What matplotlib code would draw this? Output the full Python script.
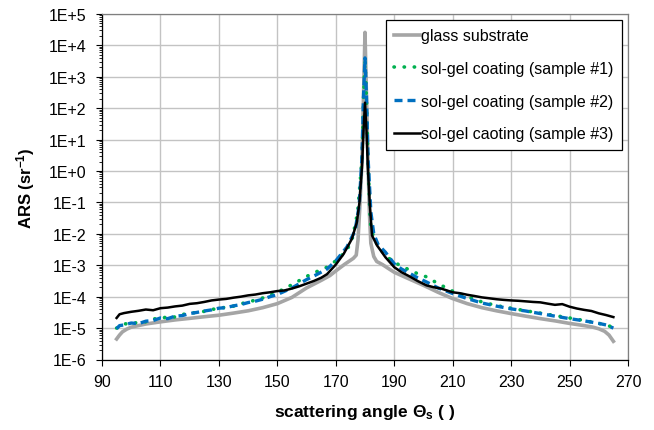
import matplotlib
matplotlib.use('Agg')
import matplotlib.pyplot as plt
from matplotlib.ticker import LogLocator, NullFormatter

plt.rcParams['font.family'] = ['Liberation Sans', 'DejaVu Sans']
plt.rcParams['mathtext.default'] = 'regular'

# ---------------- data ----------------
glass_angle = [95, 96, 97, 98.5, 100, 105, 110, 115, 120, 125, 130, 135, 140, 145, 150,
               155, 160, 165, 168, 170, 173, 176, 177, 177.6, 178.2, 179, 179.5, 180, 180.5, 181,
               181.5, 182, 183, 184, 186, 188, 190, 195, 200, 205, 210, 215, 220, 225, 230,
               235, 240, 245, 250, 255, 258, 260, 262, 263.5, 265]
glass_ars = [4.5e-6, 6.0e-6, 7.6e-6, 9.3e-6, 1.07e-5, 1.35e-5, 1.58e-5, 1.82e-5, 2.04e-5, 2.3e-5,
             2.57e-5, 3.0e-5, 3.55e-5, 4.47e-5, 6.0e-5, 9.5e-5, 1.9e-4, 3.3e-4, 4.7e-4, 6.6e-4,
             1.07e-3, 1.66e-3, 2.1e-3, 6.3e-3, 6.3e-2, 2.5, 250, 2.6e4, 250, 2.5,
             5.0e-2, 5.0e-3, 1.9e-3, 1.32e-3, 1.05e-3, 7.9e-4, 6.0e-4, 3.7e-4, 2.3e-4,
             1.38e-4, 8.7e-5, 6.0e-5, 4.47e-5, 3.55e-5, 2.9e-5, 2.4e-5, 2.0e-5, 1.7e-5, 1.41e-5,
             1.2e-5, 1.07e-5, 9.5e-6, 7.9e-6, 6.0e-6, 3.8e-6]

s1_angle = [95, 96, 97.5, 100, 102.5, 105, 107.5, 110, 112.5, 115, 117.5, 120, 122.5, 125,
            127.5, 130, 132.5, 135, 137.5, 140, 142.5, 145, 147.5, 150, 155, 160, 163, 167, 170,
            173.8, 175.8, 177.5, 179, 179.5, 180, 180.5, 181, 181.8, 183, 185, 187, 190,
            192.5, 195.5, 198, 201, 205, 210, 215, 220, 225, 230, 235, 240, 245, 250, 255, 260,
            262.5, 265]
s1_ars = [1.0e-5, 1.12e-5, 1.38e-5, 1.32e-5, 1.58e-5, 1.58e-5, 2.0e-5, 1.9e-5, 2.4e-5, 2.24e-5,
          2.75e-5, 2.8e-5, 3.3e-5, 3.4e-5, 4.0e-5, 4.0e-5, 4.8e-5, 5.0e-5, 6.0e-5, 6.6e-5,
          7.9e-5, 9.1e-5, 1.12e-4, 1.38e-4, 2.4e-4, 4.4e-4, 6.0e-4, 8.7e-4, 1.38e-3,
          2.95e-3, 7.9e-3, 5.0e-2, 2.5, 200, 3500, 200, 2.5, 2.3e-2, 6.9e-3, 3.55e-3, 2.0e-3,
          1.26e-3, 9.3e-4, 6.9e-4, 5.4e-4, 4.3e-4, 2.6e-4, 1.5e-4, 1.0e-4, 6.8e-5, 5.2e-5,
          4.3e-5, 3.55e-5, 3.0e-5, 2.5e-5, 2.1e-5, 1.74e-5, 1.41e-5, 1.26e-5, 1.05e-5]

s2_angle = [95, 96, 97.5, 100, 102.5, 105, 107.5, 110, 112.5, 115, 117.5, 120, 122.5, 125,
            127.5, 130, 132.5, 135, 137.5, 140, 142.5, 145, 147.5, 150, 155, 160, 163, 167, 170,
            173.8, 176.6, 178, 179, 179.5, 180, 180.5, 181, 182, 183, 184.5, 187, 190,
            192.5, 195.5, 198, 201, 205, 210, 215, 220, 225, 230, 235, 240, 245, 250, 255, 260,
            262.5, 265]
s2_ars = [9.5e-6, 1.2e-5, 1.26e-5, 1.45e-5, 1.38e-5, 1.66e-5, 1.74e-5, 2.1e-5, 2.0e-5, 2.4e-5,
          2.5e-5, 2.9e-5, 3.16e-5, 3.5e-5, 3.8e-5, 4.3e-5, 4.5e-5, 5.1e-5, 5.6e-5, 6.5e-5,
          7.2e-5, 8.3e-5, 1.0e-4, 1.17e-4, 1.9e-4, 3.5e-4, 4.8e-4, 7.6e-4, 1.38e-3,
          3.8e-3, 1.26e-2, 7.9e-2, 3.2, 250, 4000, 250, 3.2, 5.0e-2, 1.0e-2, 4.5e-3, 2.6e-3,
          1.12e-3, 7.6e-4, 5.4e-4, 4.0e-4, 2.95e-4, 1.9e-4, 1.26e-4, 8.7e-5, 6.3e-5, 5.0e-5,
          4.1e-5, 3.5e-5, 2.9e-5, 2.4e-5, 2.0e-5, 1.7e-5, 1.41e-5, 1.26e-5, 1.0e-5]

s3_angle = [95, 96, 97.5, 100, 102.5, 105, 107.5, 110, 112.5, 115, 117.5, 120, 122.5, 125,
            127.5, 130, 132.5, 135, 137.5, 140, 142.5, 145, 147.5, 150, 152.5, 155, 157.5, 160,
            162.5, 165, 167, 170, 172.7, 175.5, 177.2, 178.1, 179, 179.5, 180, 180.5, 181,
            181.6, 182.4, 184.1, 187, 190, 192.5, 195.5, 198, 201, 203.5, 206, 208, 210,
            212.5, 215, 217.5, 220, 222.5, 225, 227.5, 230, 232.5, 235, 237.5, 240, 242.5, 245,
            247.5, 250, 252.5, 255, 257.5, 260, 262.5, 265]
s3_ars = [2.1e-5, 2.75e-5, 3.0e-5, 3.3e-5, 3.55e-5, 3.9e-5, 3.7e-5, 4.3e-5, 4.5e-5, 4.9e-5,
          5.2e-5, 5.9e-5, 6.2e-5, 6.8e-5, 7.6e-5, 8.1e-5, 8.5e-5, 9.3e-5, 1.0e-4, 1.1e-4,
          1.17e-4, 1.29e-4, 1.38e-4, 1.51e-4, 1.58e-4, 1.82e-4, 2.14e-4, 2.6e-4, 3.16e-4, 4.0e-4,
          5.2e-4, 1.05e-3, 2.3e-3, 6.9e-3, 2.3e-2, 0.1, 1.5, 20, 150, 20, 1.2,
          0.1, 8.9e-3, 4.3e-3, 1.8e-3, 8.7e-4, 6.0e-4, 4.3e-4, 3.16e-4, 2.3e-4, 2.0e-4, 1.82e-4,
          1.58e-4, 1.38e-4, 1.29e-4, 1.15e-4, 1.05e-4, 9.5e-5, 8.9e-5, 8.3e-5, 7.9e-5, 7.6e-5,
          7.4e-5, 7.1e-5, 6.8e-5, 6.6e-5, 6.0e-5, 5.5e-5, 5.8e-5, 4.8e-5, 4.2e-5, 3.8e-5,
          3.5e-5, 2.95e-5, 2.6e-5, 2.24e-5]

series_labels = ['glass substrate', 'sol-gel coating (sample #1)',
                 'sol-gel coating (sample #2)', 'sol-gel caoting (sample #3)']
x_ticks = [90, 110, 130, 150, 170, 190, 210, 230, 250, 270]
y_tick_values = [1e-6, 1e-5, 1e-4, 1e-3, 1e-2, 1e-1, 1e0, 1e1, 1e2, 1e3, 1e4, 1e5]
y_tick_labels = ['1E-6', '1E-5', '1E-4', '1E-3', '1E-2', '1E-1', '1E+0', '1E+1',
                 '1E+2', '1E+3', '1E+4', '1E+5']

# ---------------- figure ----------------
W, H = 654, 431
fig = plt.figure(figsize=(W / 100, H / 100), dpi=100)
ax = fig.add_axes([102 / W, 1 - 360.5 / H, 526 / W, 345.5 / H])

ax.plot(glass_angle, glass_ars, color='#a5a5a5', lw=2.6, solid_joinstyle='round',
        label=series_labels[0], zorder=3)
ax.plot(s1_angle, s1_ars, color='#00b050', lw=2.6, linestyle=(0, (0.1, 2.7)),
        dash_capstyle='round', label=series_labels[1], zorder=4)
ax.plot(s2_angle, s2_ars, color='#0070c0', lw=2.4, linestyle=(0, (2.4, 1.5)),
        label=series_labels[2], zorder=5)
ax.plot(s3_angle, s3_ars, color='black', lw=1.8, solid_joinstyle='round',
        label=series_labels[3], zorder=6)

ax.set_yscale('log')
ax.set_xlim(90, 270)
ax.set_ylim(1e-6, 1e5)
ax.set_xticks(x_ticks)
ax.set_yticks(y_tick_values)
ax.set_yticklabels(y_tick_labels)
ax.yaxis.set_minor_locator(LogLocator(base=10, subs=range(2, 10), numticks=100))
ax.yaxis.set_minor_formatter(NullFormatter())
ax.xaxis.set_minor_locator(plt.NullLocator())

ax.set_axisbelow(True)
ax.grid(True, which='major', color='#c3c3c3', lw=1.0)

ax.tick_params(axis='both', which='major', direction='out', length=4, width=0.8,
               labelsize=11.5, colors='black')
ax.tick_params(axis='x', which='major', pad=6.5)
ax.tick_params(axis='y', which='major', pad=7)
ax.tick_params(axis='y', which='minor', direction='out', length=2.5, width=0.6)

for side in ['left', 'bottom']:
    ax.spines[side].set_color('black')
    ax.spines[side].set_linewidth(0.9)
for side in ['top', 'right']:
    ax.spines[side].set_color('#7f7f7f')
    ax.spines[side].set_linewidth(0.9)

ax.set_xlabel('scattering angle Θ$_{s}$ ( )', fontsize=12.5, fontweight='bold')
ax.xaxis.set_label_coords(0.5, (360.5 - 403) / 345.5)
ax.set_ylabel('ARS (sr$^{-1}$)', fontsize=12, fontweight='bold')
ax.yaxis.set_label_coords((37 - 102) / 526, 0.5)

leg = ax.legend(loc='upper right', bbox_to_anchor=((622 - 102) / 526, 1 - (20.7 - 15) / 345.5),
                borderaxespad=0, fontsize=11.5, frameon=True, fancybox=False,
                edgecolor='black', framealpha=1, handlelength=1.6, handletextpad=0.05,
                labelspacing=1.1, borderpad=0.55)
leg.get_frame().set_linewidth(0.9)
leg.set_zorder(10)

fig.savefig('out.png', dpi=100)
